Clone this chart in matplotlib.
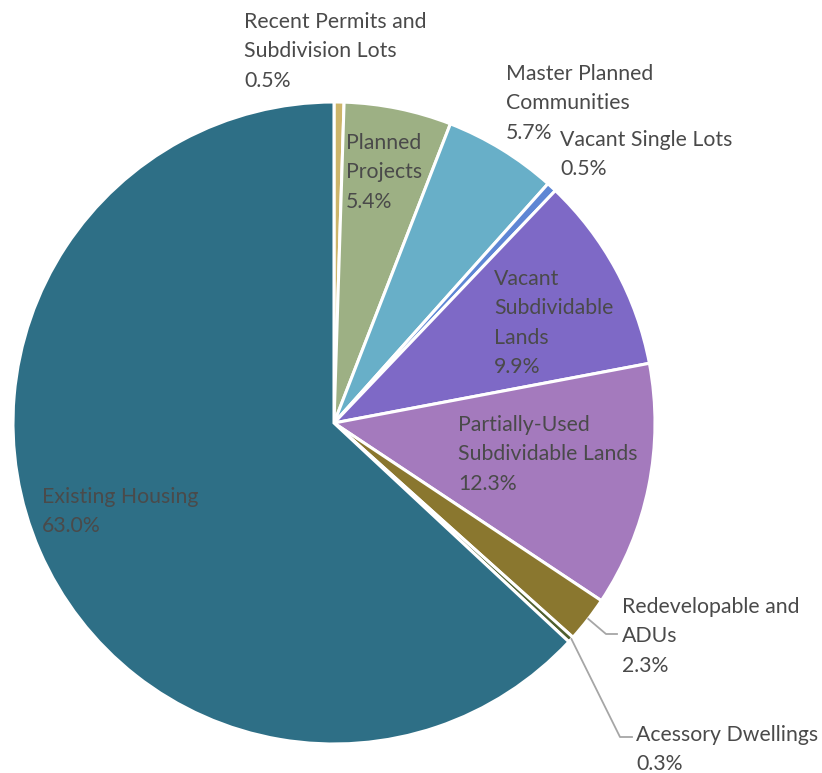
import numpy as np
import matplotlib
matplotlib.use("Agg")
import matplotlib.pyplot as plt

# slices, clockwise from 12 o'clock
labels = ["Recent Permits and\nSubdivision Lots", "Planned\nProjects",
          "Master Planned\nCommunities", "Vacant Single Lots",
          "Vacant\nSubdividable\nLands", "Partially-Used\nSubdividable Lands",
          "Redevelopable and\nADUs", "Acessory Dwellings", "Existing Housing"]
shares = [0.5, 5.4, 5.7, 0.5, 9.9, 12.3, 2.3, 0.3, 63.0]
colors = ["#CDB56A", "#9DB084", "#68AFC8", "#5E86D4", "#7E69C6",
          "#A47ABD", "#8A772F", "#4F5F2E", "#2E6F86"]

# label anchor (left, first line centre) in pixels from the top-left
label_pos = [(244, 20), (346, 141), (506, 72), (560, 138), (494, 277),
             (458, 423), (622, 605), (636, 733), (42, 495)]
line_step = 29.3
leaders = {6: [(606, 634), (617, 634)], 7: [(620, 737), (632, 737)]}

W, H = 822, 773
cx, cy, R = 334, 423, 321

plt.rcParams['font.family'] = ['Lato', 'DejaVu Sans']
fig = plt.figure(figsize=(W / 100, H / 100), dpi=100)
ax = fig.add_axes([0, 0, 1, 1])

# y axis is flipped, so counterclock=True draws clockwise on screen
wedges, _ = ax.pie(shares, colors=colors, startangle=-90, counterclock=True,
                   center=(cx, cy), radius=R, frame=True,
                   wedgeprops=dict(edgecolor="white", linewidth=2.2))
ax.set_xlim(0, W)
ax.set_ylim(H, 0)
ax.axis("off")

txtc = "#4a4a4a"
for i, (lab, s) in enumerate(zip(labels, shares)):
    x, y = label_pos[i]
    lines = lab.split("\n") + ["%.1f%%" % s]
    for k, line in enumerate(lines):
        ax.text(x, y + k * line_step, line, ha="left", va="center_baseline",
                fontsize=15.3, color=txtc)

cum = np.cumsum([0] + shares)
for i, pts in leaders.items():
    mid = (cum[i] + cum[i + 1]) / 2 / 100 * 2 * np.pi
    x0 = cx + R * np.sin(mid)
    y0 = cy - R * np.cos(mid)
    xs = [x0] + [p[0] for p in pts]
    ys = [y0] + [p[1] for p in pts]
    ax.plot(xs, ys, color="#A6A6A6", lw=1.3)

fig.savefig("out.png", dpi=100)
